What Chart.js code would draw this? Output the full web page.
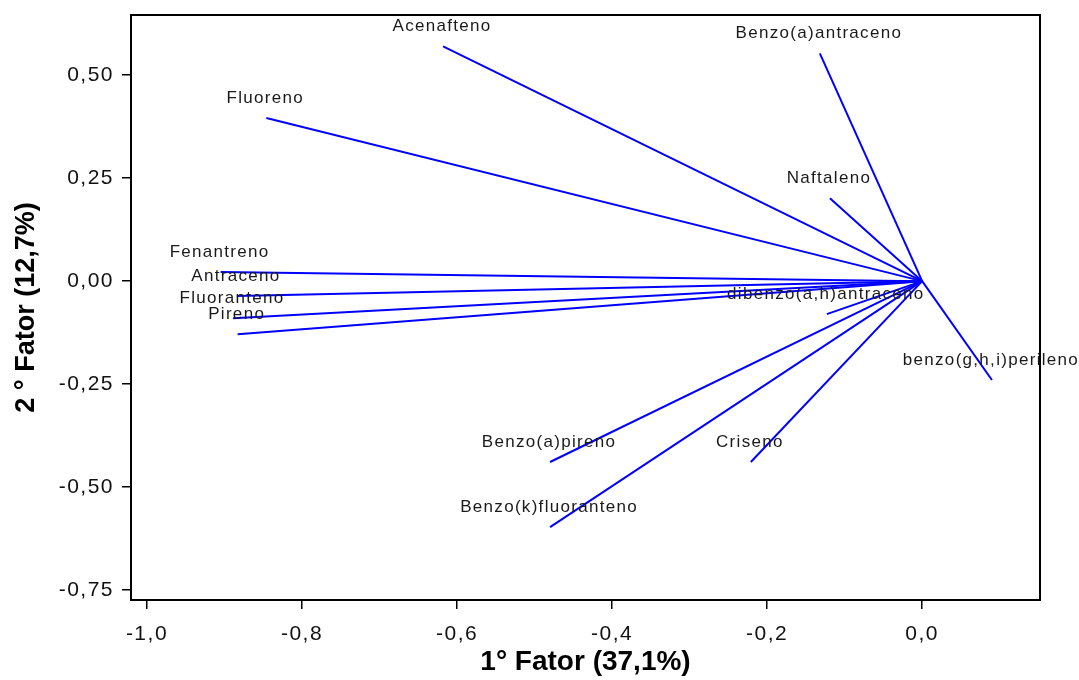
<!DOCTYPE html>
<html lang="pt">
<head>
<meta charset="utf-8">
<title>Análise fatorial - HPAs</title>
<script src="https://cdn.jsdelivr.net/npm/chart.js@4.4.1/dist/chart.umd.min.js"></script>
<style>
    html, body { margin: 0; padding: 0; background: #fff; }
    #grafico-fatores { display: block; }
</style>
</head>
<body>
<canvas id="grafico-fatores" width="1079" height="680"></canvas>
<script>
// cargas dos compostos nos dois primeiros fatores
const compostos = ['Acenafteno', 'Benzo(a)antraceno', 'Fluoreno', 'Naftaleno', 'Fenantreno', 'Antraceno',
    'Fluoranteno', 'Pireno', 'dibenzo(a,h)antraceno', 'benzo(g,h,i)perileno', 'Benzo(a)pireno', 'Criseno',
    'Benzo(k)fluoranteno'];
const fator_1 = [-0.618, -0.132, -0.846, -0.119, -0.905, -0.884, -0.889, -0.883, -0.123, 0.090, -0.480, -0.221, -0.480];
const fator_2 = [0.570, 0.553, 0.396, 0.201, 0.022, -0.036, -0.090, -0.129, -0.080, -0.240, -0.439, -0.439, -0.597];

const ticks_x = [-1.0, -0.8, -0.6, -0.4, -0.2, 0.0];
const ticks_y = [-0.75, -0.50, -0.25, 0.00, 0.25, 0.50];

const titulo_x = '1° Fator (37,1%)';
const titulo_y = '2 ° Fator (12,7%)';

const virgula = (v, casas) => v.toFixed(casas).replace('.', ',');

// espaçamento entre letras dos textos da área do gráfico
const espacamento = {
    id: 'espacamento',
    beforeDraw: (chart) => { chart.ctx.letterSpacing = '1.5px'; },
    afterDraw: (chart) => { chart.ctx.letterSpacing = '0px'; }
};

// moldura, nomes dos compostos e títulos dos eixos
const extras = {
    id: 'extras',
    afterDraw: (chart) => {
        const ctx = chart.ctx;
        const area = chart.chartArea;
        const sx = chart.scales.x, sy = chart.scales.y;
        ctx.save();
        ctx.strokeStyle = '#000';
        ctx.lineWidth = 2;
        ctx.strokeRect(area.left, area.top, area.right - area.left, area.bottom - area.top);

        ctx.letterSpacing = '1.3px';
        ctx.font = '17px "Liberation Sans", Arial, sans-serif';
        ctx.fillStyle = '#1a1a1a';
        ctx.textAlign = 'center';
        ctx.textBaseline = 'middle';
        compostos.forEach((nome, i) => {
            const px = sx.getPixelForValue(fator_1[i]);
            const py = sy.getPixelForValue(fator_2[i]);
            ctx.fillText(nome, px - 1, py - 20);
        });

        ctx.letterSpacing = '0px';
        ctx.fillStyle = '#000';
        ctx.font = 'bold 28px "Liberation Sans", Arial, sans-serif';
        ctx.fillText(titulo_x, (area.left + area.right) / 2, 662);
        ctx.translate(27, (area.top + area.bottom) / 2);
        ctx.rotate(-Math.PI / 2);
        ctx.font = 'bold 27px "Liberation Sans", Arial, sans-serif';
        ctx.fillText(titulo_y, 0, 0);
        ctx.restore();
    }
};

const build_biplot = (id_canvas) => {
    try {
        new Chart(id_canvas, {
            type: 'scatter',
            plugins: [espacamento, extras],
            data: {
                datasets: compostos.map((nome, i) => ({
                    label: nome,
                    data: [{ x: 0, y: 0 }, { x: fator_1[i], y: fator_2[i] }],
                    showLine: true,
                    borderColor: '#0000ff',
                    backgroundColor: '#0000ff',
                    borderWidth: 2,
                    pointRadius: 0,
                    pointHoverRadius: 0
                }))
            },
            options: {
                responsive: false,
                animation: false,
                layout: { padding: { top: 15, right: 39, left: 0, bottom: 0 } },
                plugins: {
                    legend: { display: false },
                    tooltip: { enabled: false }
                },
                scales: {
                    x: {
                        type: 'linear',
                        min: -1.0206,
                        max: 0.152,
                        afterBuildTicks: (scale) => { scale.ticks = ticks_x.map(v => ({ value: v })); },
                        afterFit: (scale) => { scale.height = 80; scale.paddingLeft = 0; scale.paddingRight = 0; },
                        grid: { drawOnChartArea: false, drawTicks: true, tickLength: 9, color: '#000', lineWidth: 1.5 },
                        border: { display: true, color: '#000', width: 2 },
                        ticks: {
                            color: '#111',
                            padding: 13,
                            maxRotation: 0,
                            font: { family: '"Liberation Sans", Arial, sans-serif', size: 21 },
                            callback: (v) => virgula(v, 1)
                        }
                    },
                    y: {
                        type: 'linear',
                        min: -0.774,
                        max: 0.646,
                        afterBuildTicks: (scale) => { scale.ticks = ticks_y.map(v => ({ value: v })); },
                        afterFit: (scale) => { scale.width = 131; scale.paddingTop = 0; scale.paddingBottom = 0; },
                        grid: { drawOnChartArea: false, drawTicks: true, tickLength: 9, color: '#000', lineWidth: 1.5 },
                        border: { display: true, color: '#000', width: 2 },
                        ticks: {
                            color: '#111',
                            padding: 8,
                            font: { family: '"Liberation Sans", Arial, sans-serif', size: 21 },
                            callback: (v) => virgula(v, 2)
                        }
                    }
                }
            }
        });
    } catch (e) {
        console.error('Ocorreu um erro', e);
    }
};

document.addEventListener('DOMContentLoaded', () => {
    build_biplot(document.getElementById('grafico-fatores'));
});
</script>
</body>
</html>
